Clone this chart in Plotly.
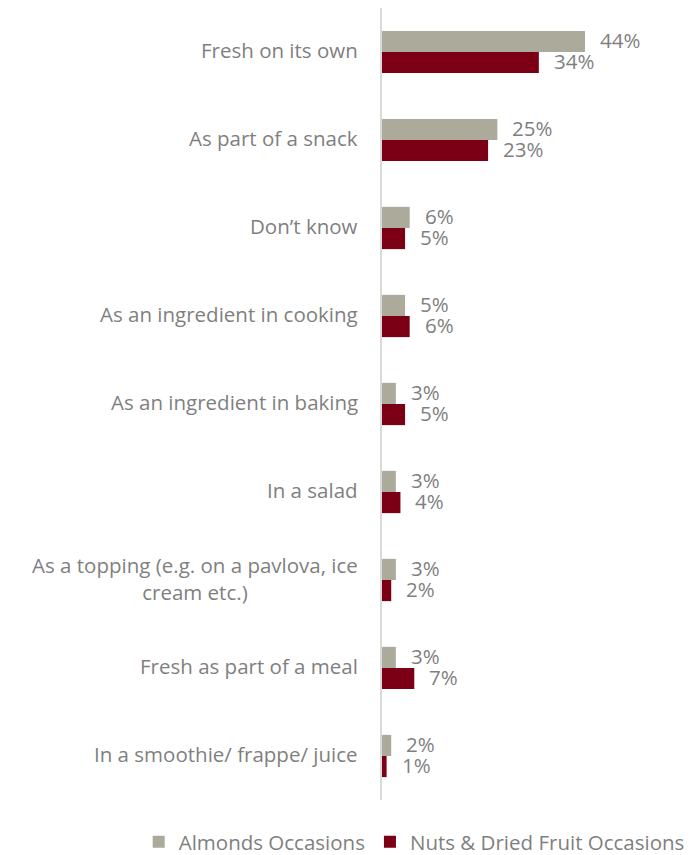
import plotly.graph_objects as go

categories = ["Fresh on its own", "As part of a snack", "Don’t know", "As an ingredient in cooking",
              "As an ingredient in baking", "In a salad",
              "As a topping (e.g. on a pavlova, ice<br>cream etc.)", "Fresh as part of a meal",
              "In a smoothie/ frappe/ juice"]
almonds = [44, 25, 6, 5, 3, 3, 3, 3, 2]
nuts = [34, 23, 5, 6, 5, 4, 2, 7, 1]
series_names = ["Almonds Occasions", "Nuts & Dried Fruit Occasions"]
colors = ["#abaa9b", "#7b0016"]
FONT = "Open Sans"
GRAY = "#7f7f7f"
FS = 20.5

fig = go.Figure()
for name, vals, col in zip(series_names, [almonds, nuts], colors):
    fig.add_trace(go.Bar(y=categories, x=vals, name=name, orientation="h",
                         marker=dict(color=col, line=dict(width=0)),
                         hoverinfo="skip"))

fig.update_layout(
    width=690, height=847,
    margin=dict(l=374, r=0, t=0, b=55, autoexpand=False),
    paper_bgcolor="white", plot_bgcolor="white",
    barmode="group", bargap=0.52, bargroupgap=0,
    font=dict(family=FONT, size=FS, color=GRAY),
    showlegend=True,
    legend=dict(orientation="h", x=-0.77, xanchor="left", y=-0.053, yanchor="middle",
                font=dict(family=FONT, size=FS, color=GRAY), itemwidth=30,
                traceorder="normal", tracegroupgap=0),
    xaxis=dict(range=[0, 68.5], visible=False, fixedrange=True),
    yaxis=dict(autorange="reversed", showticklabels=False, showline=True,
               linecolor="#d9d9d9", linewidth=2, showgrid=False, zeroline=False,
               ticks=""),
)

annotations = []
for cat in categories:
    annotations.append(dict(x=0, y=cat, xref="x", yref="y", text=cat, showarrow=False,
                            xanchor="right", yanchor="middle", align="center", xshift=-22,
                            yshift=2, font=dict(family=FONT, size=FS, color=GRAY)))
for vals, shift in [(almonds, -10.5), (nuts, 10.5)]:
    for cat, v in zip(categories, vals):
        annotations.append(dict(x=v, y=cat, xref="x", yref="y", text=f"{v}%", showarrow=False,
                                xanchor="left", yanchor="middle", xshift=13, yshift=-shift + 2,
                                height=20, valign="middle",
                                font=dict(family=FONT, size=FS, color=GRAY)))
fig.update_layout(annotations=annotations)

fig.write_html("out.html")
